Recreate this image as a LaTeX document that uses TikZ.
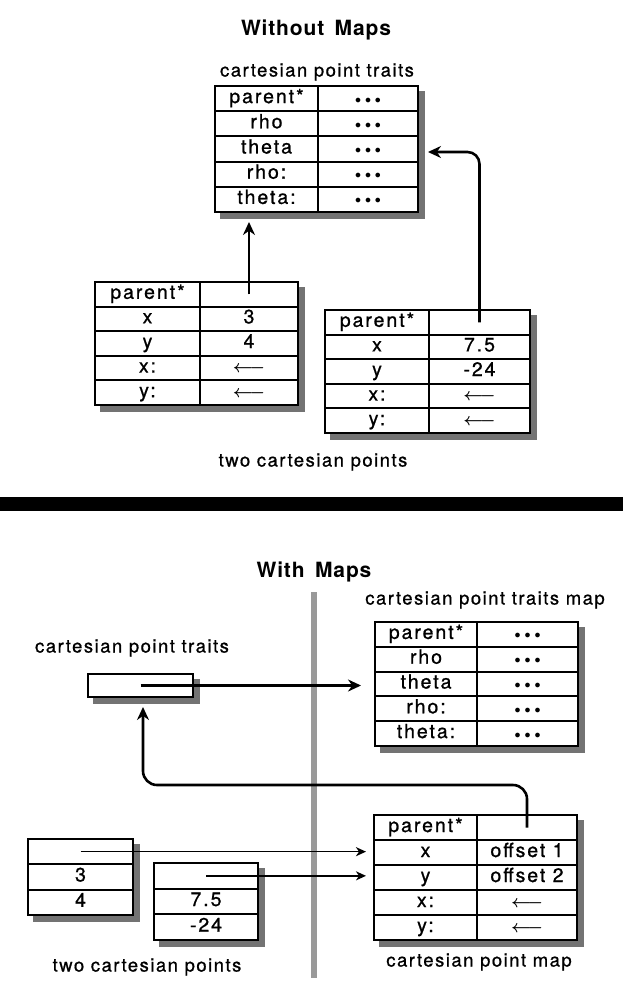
\documentclass[tikz,border=0pt]{standalone}
\usepackage{fontspec}
\setmainfont{TeX Gyre Heros}[LetterSpace=8,FakeBold=0.8]
\newfontfamily\cellfont{TeX Gyre Heros}[LetterSpace=10,FakeBold=0.9]
\newfontfamily\ttlfont{TeX Gyre Heros}[LetterSpace=4]
\usetikzlibrary{arrows.meta}
\newcommand{\tdots}{{\fontsize{12}{12}\selectfont$\bullet$\hspace{4pt}$\bullet$\hspace{4pt}$\bullet$}}
\newcommand{\larr}{{\fontsize{16}{16}\selectfont\boldmath$\longleftarrow$}}
\tikzset{
  cell/.style={draw, fill=white, line width=2pt, inner sep=0pt, outer sep=0pt,
    text height=13pt, text depth=4pt, font=\cellfont\fontsize{19.5}{21}\selectfont},
  shadowfill/.style={fill=black!55, draw=none},
  frame/.style={draw, line width=2.6pt},
  lbl/.style={inner sep=0pt, font=\fontsize{18.5}{20}\selectfont},
  ttl/.style={inner sep=0pt, font=\ttlfont\bfseries\fontsize{21}{23}\selectfont},
  arr/.style={line width=2.6pt, -{Stealth[length=13pt,width=12pt]}},
  thinarr/.style={line width=1.6pt, -{Stealth[length=10pt,width=9pt,inset=3pt]}},
  sep/.style={fill=black!40},
}
% name, left, mid, right, top, bottom, rows, list
\newcommand{\celltab}[8]{%
  \pgfmathsetmacro\myrh{(#6-#5)/#7}
  \foreach \ca/\cb [count=\ci from 0] in {#8}{
    \node[cell, minimum width={(#3-#2)*1pt}, minimum height={\myrh*1pt}] (#1-\ci-l) at ({(#2+#3)/2},{#5+(\ci+0.5)*\myrh}) {\ca};
    \node[cell, minimum width={(#4-#3)*1pt}, minimum height={\myrh*1pt}] (#1-\ci-r) at ({(#3+#4)/2},{#5+(\ci+0.5)*\myrh}) {\cb};
  }
}
% name, left, right, top, bottom, rows, list
\newcommand{\coltab}[7]{%
  \pgfmathsetmacro\myrh{(#5-#4)/#6}
  \foreach \ca [count=\ci from 0] in {#7}{
    \node[cell, minimum width={(#3-#2)*1pt}, minimum height={\myrh*1pt}] (#1-\ci) at ({(#2+#3)/2},{#4+(\ci+0.5)*\myrh}) {\ca};
  }
}
% frame and shadow: left, right, top, bottom
\newcommand{\boxdeco}[4]{%
  \fill[shadowfill] (#2+1.3,#3+5) rectangle (#2+7,#4+7);
  \fill[shadowfill] (#1+5,#4+1.3) rectangle (#2+7,#4+7);
  \draw[frame] (#1,#3) rectangle (#2,#4);
}
\begin{document}
\begin{tikzpicture}[x=1pt,y=-1pt]
\useasboundingbox[fill=white] (0,0) rectangle (623,981);

% ---------- Without Maps ----------
\node[ttl] (twithout) at (316,30) {Without\hspace{0.5em}Maps};
\node[lbl] (ltraits) at (317,72) {cartesian point traits};
\celltab{ta}{215}{318}{418}{86}{212}{5}{parent*/\tdots, rho/\tdots, theta/\tdots, rho:/\tdots, theta:/\tdots}
\celltab{tb}{95}{200}{298}{282}{405}{5}{parent*/, x/3, y/4, x:/\larr, y:/\larr}
\celltab{tc}{325}{429}{530}{310}{433}{5}{parent*/, x/7.5, y/-24, x:/\larr, y:/\larr}
\boxdeco{215}{418}{86}{212}
\boxdeco{95}{298}{282}{405}
\boxdeco{325}{530}{310}{433}
\node[lbl] (ltwo) at (313,462) {two cartesian points};

\coordinate (tipa) at (247,222);
\coordinate (tipb) at (428,152);
\draw[arr] (tb-0-r.center) -- (tb-0-r.center |- tipa);
\draw[arr, rounded corners=12pt] (tc-0-r.center) |- (tipb);

% ---------- separator bar ----------
\fill (0,497) rectangle (623,511);

% ---------- With Maps ----------
\node[ttl] (twith) at (314,572) {With\hspace{0.5em}Maps};
\fill[sep] (311,592) rectangle (317,978);
\node[lbl] (ltmap) at (485,600) {cartesian point traits map};
\node[lbl] (ltraitsb) at (132,648) {cartesian point traits};
\celltab{td}{375}{477}{578}{622}{746}{5}{parent*/\tdots, rho/\tdots, theta/\tdots, rho:/\tdots, theta:/\tdots}
\coltab{sb}{88}{193}{674}{697}{1}{{}}
\celltab{te}{374}{477}{577}{815}{940}{5}{parent*/, x/offset 1, y/offset 2, x:/\larr, y:/\larr}
\coltab{pa}{28}{133}{839}{915}{3}{{},3,4}
\coltab{pb}{154}{258}{863}{940}{3}{{},7.5,-24}
\boxdeco{375}{578}{622}{746}
\boxdeco{88}{193}{674}{697}
\boxdeco{374}{577}{815}{940}
\boxdeco{28}{133}{839}{915}
\boxdeco{154}{258}{863}{940}
\node[lbl] (ltwob) at (147,967) {two cartesian points};
\node[lbl] (lpmap) at (479,962) {cartesian point map};

\coordinate (tipc) at (361,686);
\coordinate (k4) at (143,785);
\coordinate (tipd) at (143,707);
\coordinate (tipe) at (366,852);
\draw[arr] (sb-0.center) -- (sb-0.center -| tipc);
\draw[arr] (te-0-r.center) [rounded corners=14pt] |- (k4) [rounded corners=26pt] -- (tipd);
\draw[thinarr] (pa-0.center) -- (pa-0.center -| tipe);
\draw[thinarr] (pb-0.center) -- (pb-0.center -| tipe);
\end{tikzpicture}
\end{document}
